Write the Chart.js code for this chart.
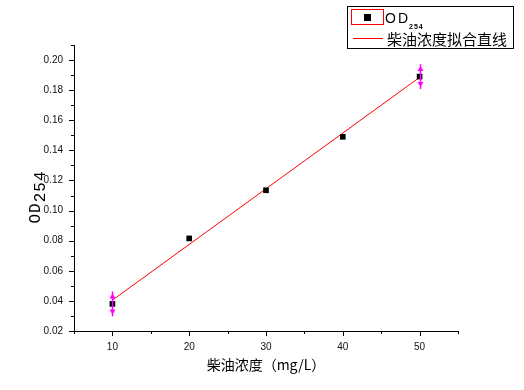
<!DOCTYPE html>
<html>
<head>
<meta charset="utf-8">
<script src="https://cdn.jsdelivr.net/npm/chart.js@4"></script>
<style>
  html, body { margin: 0; padding: 0; background: #fff; }
  #wrap { width: 524px; height: 390px; }
</style>
</head>
<body>
<div id="wrap"><canvas id="c" width="524" height="390"></canvas></div>
<script>
// 柴油浓度 (mg/L)
const concentration = [10, 20, 30, 40, 50];
// OD254 测量值
const odValues = [0.038, 0.0815, 0.1135, 0.149, 0.189];
// 误差 (只有两端可见)
const odErrors = [0.0083, 0, 0, 0, 0.0083];
// 拟合直线两端
const fitX = [10, 50];
const fitY = [0.0405, 0.1885];

const xTickLabels = [10, 20, 30, 40, 50];
const yTickLabels = ['0.02', '0.04', '0.06', '0.08', '0.10', '0.12', '0.14', '0.16', '0.18', '0.20'];

const cjk = '"Noto Sans CJK SC", "Noto Sans", sans-serif';

// 误差线、坐标轴刻度、标题、图例
const decor = {
  id: 'decor',
  afterDatasetsDraw(chart) {
    const { ctx, scales: { x, y } } = chart;
    ctx.save();
    ctx.strokeStyle = '#ff00ff';
    ctx.fillStyle = '#ff00ff';
    ctx.lineWidth = 1.5;
    concentration.forEach((cx, i) => {
      const e = odErrors[i];
      if (!e) return;
      const px = Math.round(x.getPixelForValue(cx)) + 0.5;
      const top = y.getPixelForValue(odValues[i] + e);
      const bot = y.getPixelForValue(odValues[i] - e);
      ctx.beginPath();
      ctx.moveTo(px, top); ctx.lineTo(px, bot);
      ctx.stroke();
      ctx.beginPath();
      ctx.moveTo(px, top + 2); ctx.lineTo(px - 3, top + 7); ctx.lineTo(px + 3, top + 7); ctx.closePath();
      ctx.moveTo(px, bot - 2); ctx.lineTo(px - 3, bot - 7); ctx.lineTo(px + 3, bot - 7); ctx.closePath();
      ctx.fill();
    });
    ctx.restore();
  },
  afterDraw(chart) {
    const { ctx, chartArea: a, scales: { x, y } } = chart;
    ctx.save();
    ctx.strokeStyle = '#000';
    ctx.lineWidth = 1;
    // 坐标轴
    ctx.beginPath();
    ctx.moveTo(a.left + 0.5, a.top);
    ctx.lineTo(a.left + 0.5, a.bottom + 0.5);
    ctx.lineTo(a.right, a.bottom + 0.5);
    ctx.stroke();
    // 刻度
    ctx.beginPath();
    y.ticks.forEach(t => {
      const py = Math.round(y.getPixelForValue(t.value)) + 0.5;
      const major = Math.round(t.value * 100) % 2 === 0;
      ctx.moveTo(a.left, py); ctx.lineTo(a.left - (major ? 5 : 3), py);
    });
    x.ticks.forEach(t => {
      const px = Math.round(x.getPixelForValue(t.value)) + 0.5;
      const major = t.value % 10 === 0;
      ctx.moveTo(px, a.bottom); ctx.lineTo(px, a.bottom + (major ? 5 : 3));
    });
    ctx.stroke();

    // x 轴标题
    ctx.fillStyle = '#000';
    ctx.font = '14px ' + cjk;
    ctx.textAlign = 'center';
    ctx.textBaseline = 'middle';
    ctx.fillText('柴油浓度（mg/L）', (a.left + a.right) / 2, 365);

    // y 轴标题 OD254
    ctx.save();
    ctx.translate(37, 197);
    ctx.rotate(-Math.PI / 2);
    ctx.font = '16px "Liberation Mono", "DejaVu Sans Mono", monospace';
    ctx.letterSpacing = '1px';
    ctx.textAlign = 'left';
    ctx.textBaseline = 'alphabetic';
    const w1 = ctx.measureText('OD').width;
    const w2 = ctx.measureText('254').width;
    const start = -(w1 + w2) / 2;
    ctx.fillText('OD', start, 3);
    ctx.fillText('254', start + w1, 8);
    ctx.restore();

    // 图例
    ctx.strokeStyle = '#000';
    ctx.strokeRect(347.5, 6.5, 166, 42);
    ctx.strokeStyle = '#ff0000';
    ctx.strokeRect(351.5, 9.5, 32, 15);
    ctx.fillStyle = '#000';
    ctx.fillRect(364, 14, 7, 7);
    ctx.beginPath();
    ctx.moveTo(353, 38.5); ctx.lineTo(383, 38.5);
    ctx.stroke();
    ctx.fillStyle = '#000';
    ctx.textAlign = 'left';
    ctx.textBaseline = 'alphabetic';
    ctx.font = '14px "Liberation Sans", Arial, sans-serif';
    ctx.letterSpacing = '2px';
    ctx.fillText('OD', 385, 23);
    const odw = ctx.measureText('OD').width;
    ctx.font = 'bold 7px "Liberation Sans", Arial, sans-serif';
    ctx.letterSpacing = '1px';
    ctx.fillText('254', 385 + odw - 1, 29);
    ctx.letterSpacing = '0px';
    ctx.font = '15px ' + cjk;
    ctx.fillText('柴油浓度拟合直线', 387, 45);
    ctx.restore();
  }
};

const tickFont = { family: '"Liberation Sans", Arial, sans-serif', size: 10 };

new Chart(document.getElementById('c'), {
  type: 'scatter',
  data: {
    datasets: [
      {
        label: 'OD254',
        data: concentration.map((c, i) => ({ x: c, y: odValues[i] })),
        pointStyle: 'rect',
        pointRadius: 4,
        pointBackgroundColor: '#000',
        pointBorderColor: '#000',
        pointBorderWidth: 0,
        order: 1
      },
      {
        label: '柴油浓度拟合直线',
        data: fitX.map((c, i) => ({ x: c, y: fitY[i] })),
        showLine: true,
        pointRadius: 0,
        borderColor: '#ff0000',
        borderWidth: 1,
        order: 2
      }
    ]
  },
  options: {
    responsive: false,
    animation: false,
    layout: { padding: { top: 45, right: 66, left: 0, bottom: 0 } },
    plugins: { legend: { display: false }, tooltip: { enabled: false } },
    scales: {
      x: {
        type: 'linear',
        min: 5,
        max: 55,
        grid: { display: false, drawTicks: false },
        border: { display: false },
        ticks: {
          stepSize: 5,
          autoSkip: false,
          maxRotation: 0,
          padding: 10,
          color: '#111',
          font: tickFont,
          callback: v => (xTickLabels.includes(v) ? String(v) : '')
        },
        afterFit: s => { s.height = 59; }
      },
      y: {
        min: 0.02,
        max: 0.21,
        grid: { display: false, drawTicks: false },
        border: { display: false },
        ticks: {
          stepSize: 0.01,
          autoSkip: false,
          padding: 11,
          color: '#111',
          font: tickFont,
          callback: v => {
            const s = v.toFixed(2);
            return yTickLabels.includes(s) ? s : '';
          }
        },
        afterFit: s => { s.width = 74; }
      }
    }
  },
  plugins: [decor]
});
</script>
</body>
</html>
